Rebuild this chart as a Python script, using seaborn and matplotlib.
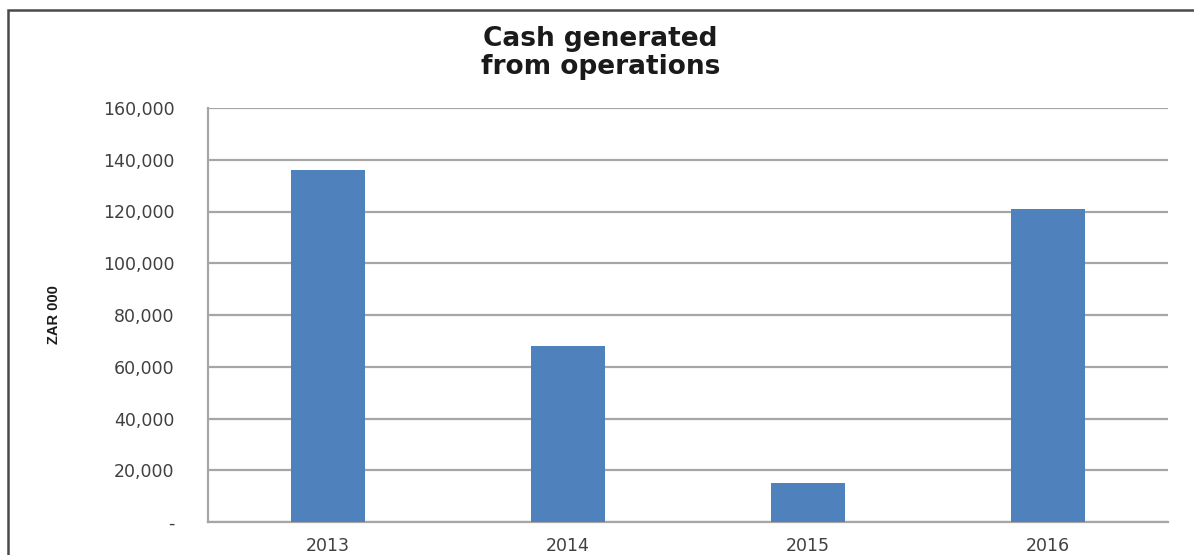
import matplotlib
matplotlib.use("Agg")
import matplotlib.pyplot as plt
from matplotlib.patches import Rectangle
from matplotlib.ticker import FuncFormatter
import seaborn as sns
import pandas as pd

# Cash generated from operations, ZAR thousands
years = ["2013", "2014", "2015", "2016"]
cash_generated = [136000, 68000, 15000, 121000]
y_ticks = [0, 20000, 40000, 60000, 80000, 100000, 120000, 140000, 160000]

df = pd.DataFrame({"year": years, "cash": cash_generated})

sns.set_theme(style="white")
plt.rcParams["font.family"] = ["DejaVu Sans"]

fig = plt.figure(figsize=(11.94, 5.55), dpi=100)
ax = fig.add_axes([208 / 1194, 1 - 522 / 555, 960 / 1194, 414 / 555])

sns.barplot(data=df, x="year", y="cash", color="#4f81bd", width=0.31,
            saturation=1, linewidth=0, ax=ax, zorder=3)

ax.set_ylim(0, 160000)
ax.set_yticks(y_ticks)
ax.yaxis.set_major_formatter(
    FuncFormatter(lambda v, _: "-" if v == 0 else f"{int(v):,}"))
ax.grid(axis="y", color="#a6a6a6", linewidth=1.6, zorder=0)
ax.set_axisbelow(True)

for side in ["top", "right"]:
    ax.spines[side].set_visible(False)
for side in ["left", "bottom"]:
    ax.spines[side].set_color("#a6a6a6")
    ax.spines[side].set_linewidth(1.6)

ax.tick_params(axis="both", length=0, labelsize=12.5, labelcolor="#404040")
ax.tick_params(axis="y", pad=24)
ax.tick_params(axis="x", pad=11)
ax.set_xlabel("")
ax.set_ylabel("ZAR 000", family=["Liberation Sans", "DejaVu Sans"],
              fontsize=10.5, fontweight="bold", color="#1a1a1a", labelpad=0)
ax.yaxis.set_label_coords(-(208 - 61) / 960, 0.5)

fig.text(0.503, 1 - 53 / 555, "Cash generated\nfrom operations",
         ha="center", va="center", fontsize=19, fontweight="bold",
         family=["DejaVu Sans"], color="#1a1a1a", linespacing=1.15)

# Chart frame
fig.add_artist(Rectangle((8 / 1194, -0.1), 1.2, 1 - 10 / 555 + 0.1,
                         transform=fig.transFigure, fill=False,
                         edgecolor="#4a4a4a", linewidth=1.8, clip_on=False))

fig.savefig("out.png", dpi=100)
